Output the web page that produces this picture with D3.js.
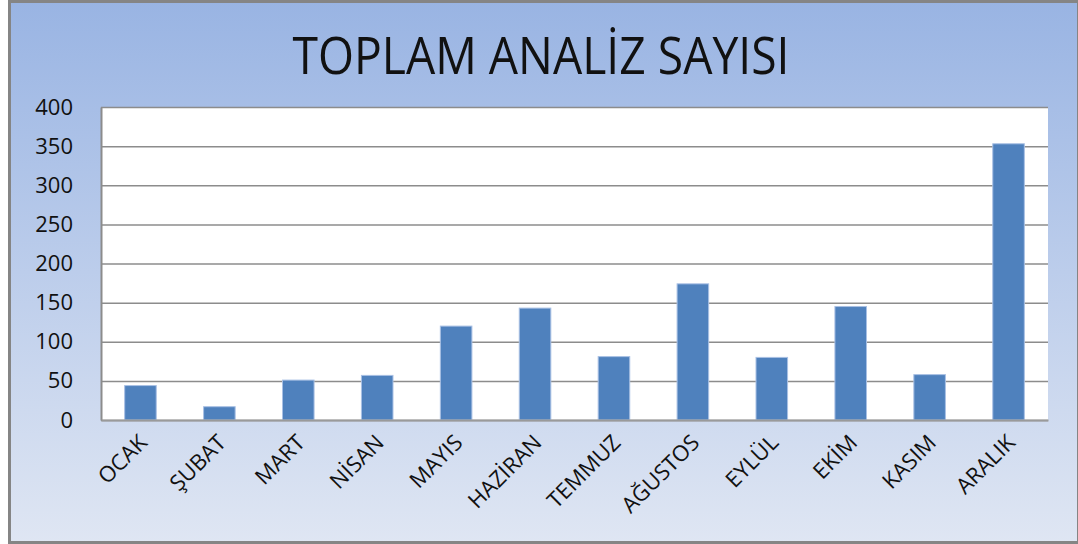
<!DOCTYPE html>
<html>
<head>
<meta charset="utf-8">
<script src="https://cdnjs.cloudflare.com/ajax/libs/d3/7.8.5/d3.min.js"></script>
<style>
  html, body { margin: 0; padding: 0; background: #fff; }
  #chart text { font-family: "Open Sans", "Noto Sans", sans-serif; fill: #111; }
</style>
</head>
<body>
<div id="chart"></div>
<script>
var months = ["OCAK", "ŞUBAT", "MART", "NİSAN", "MAYIS", "HAZİRAN", "TEMMUZ", "AĞUSTOS", "EYLÜL", "EKİM", "KASIM", "ARALIK"];
var counts = [44, 17, 51, 57, 120, 143, 81, 174, 80, 145, 58, 353];
var yTicks = [0, 50, 100, 150, 200, 250, 300, 350, 400];
var title = "TOPLAM ANALİZ SAYISI";

(function() {
  var W = 1078, H = 544;
  var margin = { top: 107, right: 30, bottom: 124, left: 101 };
  var width = W - margin.left - margin.right,
      height = H - margin.top - margin.bottom;

  var svg = d3.select("#chart").append("svg")
      .attr("width", W)
      .attr("height", H);

  var grad = svg.append("defs").append("linearGradient")
      .attr("id", "bg").attr("x1", 0).attr("y1", 0).attr("x2", 0).attr("y2", 1);
  grad.append("stop").attr("offset", "0%").attr("stop-color", "#99b4e3");
  grad.append("stop").attr("offset", "100%").attr("stop-color", "#dfe6f3");

  // chart frame
  svg.append("rect")
    .attr("x", 9.5).attr("y", 1.5)
    .attr("width", W - 9).attr("height", H - 3)
    .attr("fill", "url(#bg)")
    .attr("stroke", "#858585").attr("stroke-width", 3);

  svg.append("text")
    .attr("x", 541).attr("y", 74)
    .attr("text-anchor", "middle")
    .attr("font-size", 52)
    .attr("textLength", 497)
    .attr("lengthAdjust", "spacingAndGlyphs")
    .text(title);

  var g = svg.append("g").attr("transform", "translate(" + margin.left + "," + margin.top + ")");

  var x = d3.scaleBand().domain(months).range([0, width]).paddingInner(0.6).paddingOuter(0.3);
  var y = d3.scaleLinear().domain([0, 400]).range([height, 0]);

  g.append("rect").attr("width", width).attr("height", height).attr("fill", "#fff");

  // gridlines
  g.append("g")
    .call(d3.axisLeft(y).tickValues(yTicks).tickSize(-width).tickFormat(""))
    .call(function(a) {
      a.select(".domain").remove();
      a.selectAll("line").attr("stroke", "#8c8c8c").attr("stroke-width", 1.5);
    });

  g.selectAll("rect.bar")
    .data(counts)
    .enter().append("rect")
      .attr("class", "bar")
      .attr("x", function(d, i) { return x(months[i]); })
      .attr("y", function(d) { return y(d); })
      .attr("width", x.bandwidth())
      .attr("height", function(d) { return height - y(d); })
      .attr("fill", "#4f81bd")
      .attr("stroke", "#a9c0e4")
      .attr("stroke-width", 1);

  // y axis labels
  var ya = g.append("g")
    .call(d3.axisLeft(y).tickValues(yTicks).tickSize(0).tickPadding(28));
  ya.select(".domain").attr("stroke", "#8c8c8c").attr("stroke-width", 2);
  ya.selectAll("text").attr("font-size", 22).attr("fill", "#1a1a1a")
    .attr("font-family", "\"Open Sans\", sans-serif");

  // x axis
  var xa = g.append("g")
    .attr("transform", "translate(0," + height + ")")
    .call(d3.axisBottom(x).tickSize(0).tickFormat(""));
  xa.select(".domain").attr("stroke", "#9a9a9a").attr("stroke-width", 2);

  g.append("g").selectAll("text")
    .data(months)
    .enter().append("text")
      .attr("transform", function(d) {
        return "translate(" + (x(d) + x.bandwidth() / 2 + 8) + "," + (height + 24) + ") rotate(-45)";
      })
      .attr("text-anchor", "end")
      .attr("font-size", 22)
      .attr("fill", "#1a1a1a")
      .text(function(d) { return d; });
})();
</script>
</body>
</html>
